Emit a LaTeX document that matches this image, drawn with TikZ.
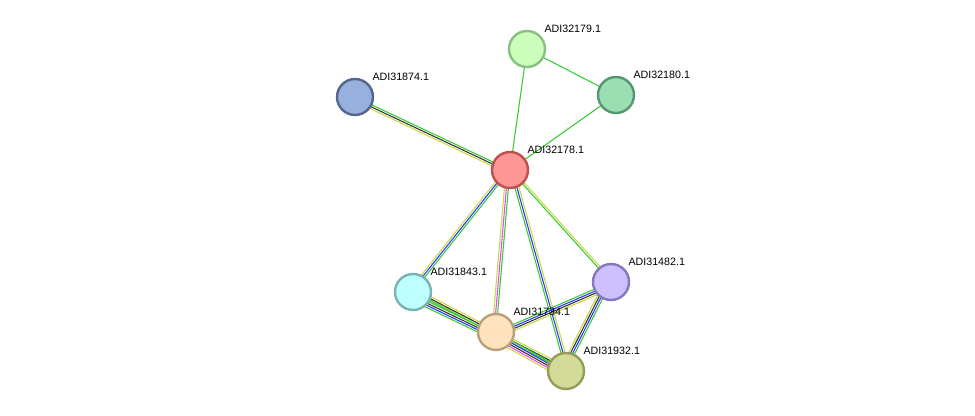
\documentclass[tikz,border=0pt]{standalone}
\usepackage{fontspec}
\setmainfont{Liberation Sans}
\usetikzlibrary{calc,backgrounds}
\definecolor{eg}{HTML}{33CC33}
\definecolor{eb}{HTML}{3333FF}
\definecolor{ek}{HTML}{333333}
\definecolor{ey}{HTML}{C8D840}
\definecolor{em}{HTML}{EE44EE}
\newcommand{\ppiedge}[3]{% from, to, colours
  \foreach \c [count=\i] in {#3} {
    \pgfmathsetmacro{\off}{(\i-1)*1.5}
    \draw[\c, line width=0.8pt] ($(#1)!\off pt!90:(#2)$) -- ($(#2)!\off pt!-90:(#1)$);
  }
}
\begin{document}
\begin{tikzpicture}[
  x=0.75pt,
  y=-0.75pt,
  font=\fontsize{8}{9}\selectfont,
  prot/.style={circle, minimum size=27pt, line width=1.8pt, inner sep=0pt},
  lbl/.style={anchor=south west, inner sep=1pt}
]
\useasboundingbox (0,0) rectangle (975,416);

% proteine
\node[prot, fill={rgb,255:red,255;green,150;blue,150}, draw={rgb,255:red,190;green,80;blue,80}] (p178) at (510,170) {};
\node[prot, fill={rgb,255:red,204;green,255;blue,187}, draw={rgb,255:red,136;green,192;blue,128}] (p179) at (527,49) {};
\node[prot, fill={rgb,255:red,155;green,222;blue,178}, draw={rgb,255:red,85;green,150;blue,115}] (p180) at (616,95) {};
\node[prot, fill={rgb,255:red,152;green,176;blue,222}, draw={rgb,255:red,85;green,102;blue,140}] (p874) at (355,97) {};
\node[prot, fill={rgb,255:red,190;green,255;blue,255}, draw={rgb,255:red,120;green,180;blue,180}] (p843) at (413,292) {};
\node[prot, fill={rgb,255:red,255;green,226;blue,190}, draw={rgb,255:red,185;green,160;blue,125}] (p734) at (496,332) {};
\node[prot, fill={rgb,255:red,205;green,192;blue,255}, draw={rgb,255:red,135;green,120;blue,190}] (p482) at (611,282) {};
\node[prot, fill={rgb,255:red,210;green,220;blue,152}, draw={rgb,255:red,150;green,155;blue,85}] (p932) at (566,371) {};

% etichete
\node[lbl] (l178) at (526,155) {ADI32178.1};
\node[lbl] (l179) at (543,34) {ADI32179.1};
\node[lbl] (l180) at (632,80) {ADI32180.1};
\node[lbl] (l874) at (371,82) {ADI31874.1};
\node[lbl] (l843) at (429,277) {ADI31843.1};
\node[lbl] (l734) at (512,317) {ADI31734.1};
\node[lbl] (l482) at (627,267) {ADI31482.1};
\node[lbl] (l932) at (582,356) {ADI31932.1};

% legaturi
\begin{scope}[on background layer]
\ppiedge{p178}{p179}{eg}
\ppiedge{p178}{p180}{eg}
\ppiedge{p179}{p180}{eg}
\ppiedge{p178}{p874}{eg,ek,ey}
\ppiedge{p843}{p178}{eg,eb,ey}
\ppiedge{p734}{p178}{eg,em,ey}
\ppiedge{p178}{p932}{eg,eb,ey}
\ppiedge{p178}{p482}{eg,ey}
\ppiedge{p734}{p843}{ey,eg,ek,eb,eg}
\ppiedge{p843}{p932}{eg,ek,ey}
\ppiedge{p932}{p734}{eg,eb,ek,em,ey}
\ppiedge{p482}{p734}{eg,eb,ek,ey}
\ppiedge{p932}{p482}{eg,eb,ek,ey}
\end{scope}
\end{tikzpicture}
\end{document}
